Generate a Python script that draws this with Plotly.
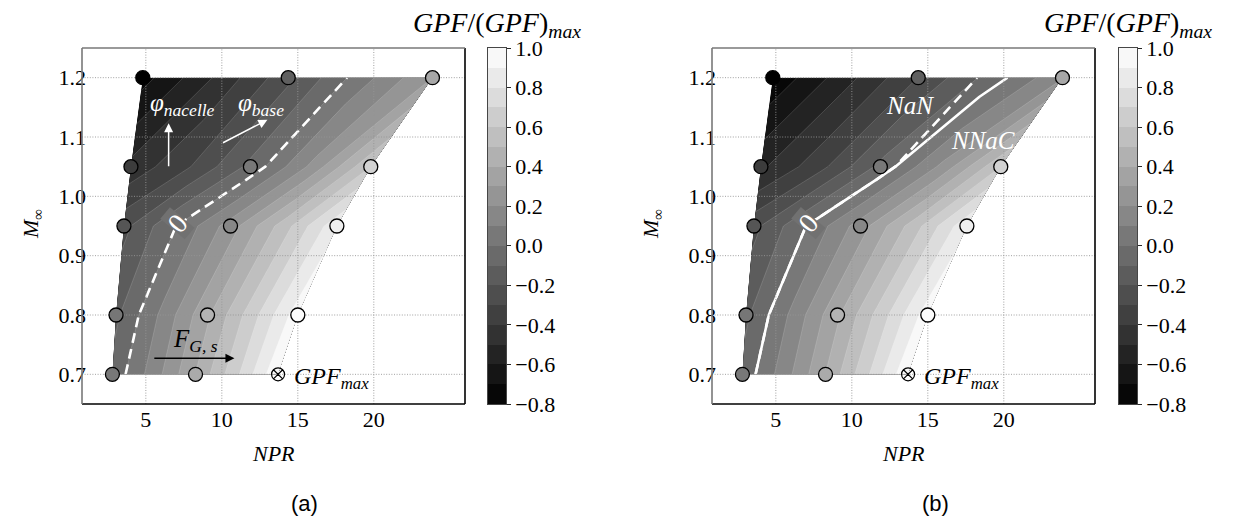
import plotly.graph_objects as go

# ---- operating points (free-stream Mach rows, NPR at the three stations) ----
MACH = [0.7, 0.8, 0.95, 1.05, 1.2]
NPR_LOW = [2.8, 3.04, 3.56, 4.02, 4.8]
NPR_MID = [8.27, 9.06, 10.57, 11.88, 14.37]
NPR_HIGH = [13.7, 15.0, 17.57, 19.8, 23.86]

# measured GPF/(GPF)max at the sampled points (the 0.7 / high station is the maximum)
GPF_LOW = [0.05, 0.03, -0.2, -0.38, -0.8]
GPF_MID = [0.40, 0.47, 0.15, 0.05, -0.13]
GPF_HIGH = [0.98, 0.89, 0.68, 0.38]
GPF_MAX_NPR = 13.7
GPF_MAX_MACH = 0.7

# model predictions along each Mach row, at fractions of the row's NPR span
STATION = [0.0, 0.25, 0.5, 0.75, 1.0]
GPF_NAN = [
    [-0.07, 0.15, 0.40, 0.68, 0.99],
    [-0.12, 0.12, 0.38, 0.66, 0.96],
    [-0.23, 0.005, 0.25, 0.55, 0.88],
    [-0.47, -0.30, -0.07, 0.22, 0.60],
    [-0.74, -0.49, -0.23, 0.05, 0.30],
]
GPF_NNAC = [
    [-0.07, 0.15, 0.40, 0.68, 0.99],
    [-0.12, 0.12, 0.38, 0.66, 0.96],
    [-0.23, 0.005, 0.25, 0.55, 0.88],
    [-0.52, -0.33, -0.07, 0.22, 0.60],
    [-0.78, -0.54, -0.30, -0.06, 0.19],
]

LEVEL_START, LEVEL_END, LEVEL_STEP = -0.8, 1.0, 0.1
CB_MID = [-0.75, -0.65, -0.55, -0.45, -0.35, -0.25, -0.15, -0.05, 0.05,
          0.15, 0.25, 0.35, 0.45, 0.55, 0.65, 0.75, 0.85, 0.95]
CB_TICKS = [-0.8, -0.6, -0.4, -0.2, 0.0, 0.2, 0.4, 0.6, 0.8, 1.0]
X_TICKS = [5, 10, 15, 20]
Y_TICKS = [0.7, 0.8, 0.9, 1.0, 1.1, 1.2]
X_RANGE = [0.8, 26.0]
Y_RANGE = [0.65, 1.25]

SERIF = "Liberation Serif"
GRAY = [[0, "rgb(0,0,0)"], [1, "rgb(255,255,255)"]]
# band colours of the filled contours follow the same linear grey map
FILL_GRAY = [[0, "rgb(0,0,0)"], [0.05 / 1.9, "rgb(0,0,0)"],
             [1.85 / 1.9, "rgb(255,255,255)"], [1, "rgb(255,255,255)"]]

# curvilinear grid: each Mach row spans NPR_LOW..NPR_HIGH
GRID_X = [[lo + f * (hi - lo) for f in STATION] for lo, hi in zip(NPR_LOW, NPR_HIGH)]
GRID_Y = [[m for _ in STATION] for m in MACH]

hidden = dict(showgrid=False, showline=False, showticklabels="none",
              startline=False, endline=False, minorgridcount=0, smoothing=0,
              gridcolor="rgba(0,0,0,0)", linecolor="rgba(0,0,0,0)")

fig = go.Figure()

panels = [("x", "y", "ca", GPF_NAN), ("x2", "y2", "cb", GPF_NNAC)]

for xa, ya, cid, field in panels:
    fig.add_trace(go.Carpet(carpet=cid, a=STATION, b=MACH, x=GRID_X, y=GRID_Y,
                            aaxis=hidden, baxis=hidden, color="rgba(0,0,0,0)",
                            xaxis=xa, yaxis=ya))
    fig.add_trace(go.Contourcarpet(
        carpet=cid, a=STATION, b=MACH, z=field, xaxis=xa, yaxis=ya,
        autocontour=False,
        contours=dict(start=LEVEL_START, end=LEVEL_END, size=LEVEL_STEP,
                      coloring="fill", showlines=True),
        line=dict(width=0.6, color="rgba(255,255,255,0.25)", smoothing=0),
        colorscale=FILL_GRAY, zauto=False, zmin=-0.85, zmax=1.05,
        showscale=False))

# zero-level contour lines: NaN dashed (both panels), NNaC solid (panel b)
for xa, ya, cid, field, dash in [("x", "y", "ca", GPF_NAN, "10px,6px"),
                                 ("x2", "y2", "cb", GPF_NAN, "10px,6px"),
                                 ("x2", "y2", "cb", GPF_NNAC, "solid")]:
    fig.add_trace(go.Contourcarpet(
        carpet=cid, a=STATION, b=MACH, z=field, xaxis=xa, yaxis=ya,
        autocontour=False,
        contours=dict(start=0, end=0.5, size=1, coloring="none"),
        line=dict(width=2.6, color="white", dash=dash, smoothing=0),
        showscale=False))

# dotted grid drawn over the filled field
for xa, ya in [("x", "y"), ("x2", "y2")]:
    gx, gy = [], []
    for t in X_TICKS:
        gx += [t, t, None]
        gy += [Y_RANGE[0], Y_RANGE[1], None]
    for t in Y_TICKS:
        gx += [X_RANGE[0], X_RANGE[1], None]
        gy += [t, t, None]
    fig.add_trace(go.Scatter(x=gx, y=gy, mode="lines", xaxis=xa, yaxis=ya,
                             line=dict(color="rgb(150,150,150)", width=0.9, dash="1px,1.6px"),
                             hoverinfo="skip", showlegend=False))

# sampled points
pts_x = NPR_LOW + NPR_MID + NPR_HIGH[1:]
pts_y = MACH + MACH + MACH[1:]
pts_c = GPF_LOW + GPF_MID + GPF_HIGH
for xa, ya in [("x", "y"), ("x2", "y2")]:
    fig.add_trace(go.Scatter(
        x=pts_x, y=pts_y, mode="markers", xaxis=xa, yaxis=ya, showlegend=False,
        marker=dict(size=14, color=pts_c, colorscale=GRAY, cmin=-0.8, cmax=1.0,
                    line=dict(color="black", width=1.3))))
    fig.add_trace(go.Scatter(
        x=[GPF_MAX_NPR], y=[GPF_MAX_MACH], mode="markers", xaxis=xa, yaxis=ya,
        showlegend=False,
        marker=dict(symbol="circle-x-open", size=13, color="black",
                    line=dict(color="black", width=1.2))))

# colour bars as banded heatmaps
for xa, ya in [("x3", "y3"), ("x4", "y4")]:
    fig.add_trace(go.Heatmap(z=[[v] for v in CB_MID], x=[0], y=CB_MID,
                             colorscale=GRAY, zmin=LEVEL_START, zmax=LEVEL_END,
                             showscale=False, xaxis=xa, yaxis=ya, hoverinfo="skip"))

tickfont = dict(family=SERIF, size=22, color="black")
Y_DOM = [1 - 404 / 518, 1 - 48 / 518]


def main_axes(xdom, anchor):
    xa = dict(domain=xdom, range=X_RANGE, tickvals=X_TICKS, showgrid=False,
              zeroline=False, ticks="", tickfont=tickfont, showline=False,
              automargin=False, anchor=anchor)
    ya = dict(domain=Y_DOM, range=Y_RANGE, tickvals=Y_TICKS, tickformat=".1f",
              showgrid=False, zeroline=False, ticks="", tickfont=tickfont,
              showline=False, automargin=False, ticklabelstandoff=-5)
    return xa, ya


def cbar_axes(xdom, yname, xname):
    xa = dict(domain=xdom, range=[-0.5, 0.5], showticklabels=False, ticks="",
              showgrid=False, zeroline=False, showline=True, mirror=True,
              linecolor="rgb(70,70,70)", linewidth=0.8, anchor=yname,
              automargin=False)
    ya = dict(domain=Y_DOM, range=[LEVEL_START, LEVEL_END], side="right",
              tickvals=CB_TICKS, tickformat=".1f", ticks="outside", ticklen=4,
              tickcolor="rgb(40,40,40)", showgrid=False, zeroline=False,
              showline=True, mirror=True, linecolor="rgb(70,70,70)",
              linewidth=0.8, tickfont=tickfont, anchor=xname, automargin=False)
    return xa, ya


xa1, ya1 = main_axes([82 / 1236, 465 / 1236], "y")
ya1["anchor"] = "x"
xa2, ya2 = main_axes([712 / 1236, 1095 / 1236], "y2")
ya2["anchor"] = "x2"
xa3, ya3 = cbar_axes([488 / 1236, 506 / 1236], "y3", "x3")
xa4, ya4 = cbar_axes([1119 / 1236, 1137 / 1236], "y4", "x4")

shapes = []
for xr, yr in [("x domain", "y domain"), ("x2 domain", "y2 domain")]:
    for x0, y0, x1, y1, col in [(0, 0, 1, 0, "black"), (1, 0, 1, 1, "black"),
                                (0, 1, 1, 1, "rgb(120,120,120)"),
                                (0, 0, 0, 1, "rgb(120,120,120)")]:
        shapes.append(dict(type="line", xref=xr, yref=yr, x0=x0, y0=y0, x1=x1, y1=y1,
                           line=dict(color=col, width=1.6), layer="above"))

ann = []


def text(x, y, s, size=22, color="black", xref="paper", yref="paper", family=SERIF, **kw):
    d = dict(x=x, y=y, xref=xref, yref=yref, text=s, showarrow=False,
             xanchor="center", yanchor="middle",
             font=dict(family=family, size=size, color=color))
    d.update(kw)
    ann.append(d)


def arrow(x0, y0, x1, y1, xr, yr, color, width=1.5):
    ann.append(dict(x=x1, y=y1, ax=x0, ay=y0, xref=xr, yref=yr, axref=xr, ayref=yr,
                    text="", showarrow=True, arrowhead=2, arrowsize=1.2,
                    arrowwidth=width, arrowcolor=color))


for cx, mx, cb, lab, lx, xr, yr in [(273.5, 32, 497, "(a)", 304, "x", "y"),
                                    (903.5, 652, 1128, "(b)", 935, "x2", "y2")]:
    text(cx / 1236, 1 - 453 / 518, "<i>NPR</i>")
    text(mx / 1236, 1 - 224 / 518, "<i>M</i><sub>∞</sub>", textangle=-90)
    text(cb / 1236, 1 - 24 / 518, "<i>GPF</i>/(<i>GPF</i>)<sub><i>max</i></sub>", size=28)
    text(lx / 1236, 1 - 503 / 518, lab, size=22, family="Liberation Sans")
    text(14.6, 0.694, "<i>GPF</i><sub><i>max</i></sub>", size=24, xref=xr, yref=yr,
         xanchor="left")

# panel (a) labels
text(7.05, 0.955, "0", size=28, color="white", xref="x", yref="y", textangle=-50,
     bgcolor="rgb(113,113,113)", borderpad=0)
text(7.4, 1.155, "<i>φ</i><sub><i>nacelle</i></sub>", size=25, color="white",
     xref="x", yref="y")
text(12.6, 1.155, "<i>φ</i><sub><i>base</i></sub>", size=25, color="white",
     xref="x", yref="y")
arrow(6.5, 1.048, 6.5, 1.123, "x", "y", "white")
arrow(9.98, 1.089, 13.0, 1.129, "x", "y", "white")
text(8.3, 0.757, "<i>F</i><sub><i>G, s</i></sub>", size=25, xref="x", yref="y")
arrow(5.46, 0.727, 10.83, 0.727, "x", "y", "black")

# panel (b) labels
text(7.1, 0.955, "0", size=28, color="white", xref="x2", yref="y2", textangle=-50,
     bgcolor="rgb(113,113,113)", borderpad=0)
text(13.8, 1.153, "<i>NaN</i>", size=25, color="white", xref="x2", yref="y2")
text(18.6, 1.094, "<i>NNaC</i>", size=25, color="white", xref="x2", yref="y2")

fig.update_layout(
    template="none",
    width=1236, height=518, margin=dict(l=0, r=0, t=0, b=0, pad=0),
    paper_bgcolor="white", plot_bgcolor="white", showlegend=False,
    xaxis=xa1, yaxis=ya1, xaxis2=xa2, yaxis2=ya2,
    xaxis3=xa3, yaxis3=ya3, xaxis4=xa4, yaxis4=ya4,
    shapes=shapes, annotations=ann,
    font=dict(family=SERIF, size=22, color="black"),
)

fig.write_html("out.html")
